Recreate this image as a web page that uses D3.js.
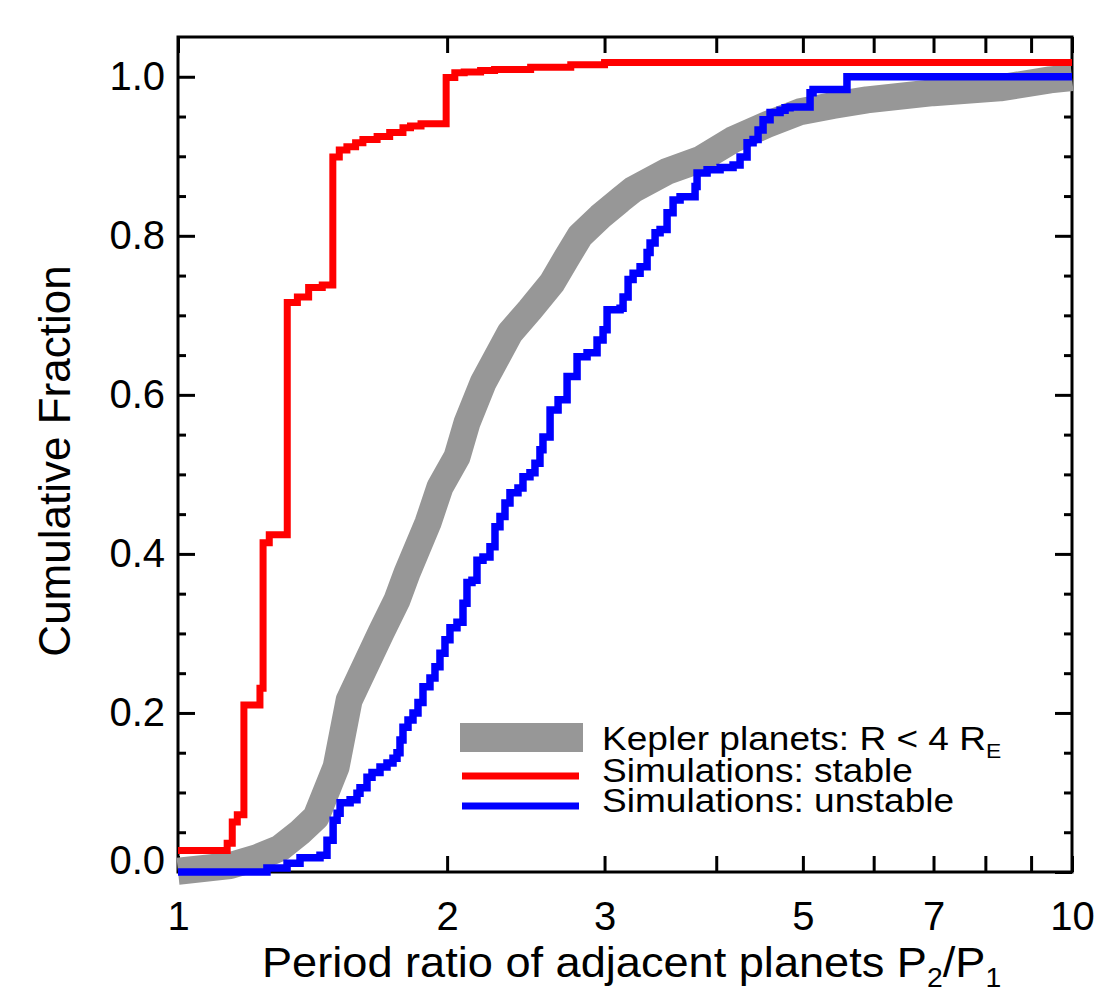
<!DOCTYPE html>
<html><head><meta charset="utf-8">
<script src="https://cdn.jsdelivr.net/npm/d3@7"></script>
<style>
html,body{margin:0;padding:0;background:#fff;}
text{font-family:"Liberation Sans",Arial,Helvetica,sans-serif;fill:#000;}
</style></head>
<body>
<svg id="chart" width="1108" height="1007"></svg>
<script>
// ---- data (period ratio, cumulative fraction) ----
const keplerRatio = [1.0,1.1433,1.2256,1.3007,1.3693,1.4268,1.5026,1.5538,1.6868,1.7578,1.8036,1.9037,1.9635,2.0514,2.105,2.1935,2.3515,2.476,2.6207,2.72,2.8166,2.9656,3.1224,3.2289,3.5242,3.8369,4.1771,4.5595,4.9638,5.403,5.8962,6.9937,8.3073,9.4497,10.0];
const keplerFrac  = [0.001,0.008,0.018,0.030,0.050,0.069,0.132,0.216,0.301,0.342,0.376,0.439,0.484,0.522,0.565,0.615,0.678,0.707,0.741,0.772,0.800,0.824,0.845,0.858,0.881,0.896,0.921,0.940,0.956,0.964,0.971,0.980,0.986,0.996,0.999];

const stableRatio = [1.0,1.135,1.150,1.165,1.185,1.235,1.245,1.265,1.325,1.36,1.40,1.45,1.49,1.515,1.545,1.58,1.61,1.67,1.725,1.785,1.82,1.87,1.995,2.04,2.09,2.18,2.26,2.48,2.75,3.0,10.0];
const stableFrac  = [0.027,0.036,0.063,0.072,0.210,0.231,0.414,0.424,0.716,0.723,0.735,0.738,0.899,0.908,0.912,0.917,0.921,0.925,0.930,0.936,0.938,0.941,0.999,1.005,1.006,1.008,1.009,1.012,1.015,1.018,1.018];

const unstableRatio = [1.0,1.2574,1.3243,1.3693,1.4416,1.4678,1.4911,1.5065,1.5182,1.5578,1.5857,1.598,1.6271,1.6482,1.6825,1.7131,1.7398,1.7578,1.7714,1.7851,1.8083,1.8317,1.8554,1.8794,1.9136,1.9384,1.9635,1.989,2.0147,2.0514,2.0834,2.105,2.1322,2.1599,2.1935,2.2334,2.2624,2.2917,2.3214,2.3515,2.4004,2.4315,2.4757,2.5078,2.5403,2.56,2.6073,2.6616,2.724,2.795,2.8679,2.9427,2.9886,3.0196,3.1224,3.1466,3.1876,3.2289,3.2876,3.3474,3.3733,3.417,3.4613,3.5242,3.5791,3.6442,3.7877,3.8073,3.9066,4.0396,4.1771,4.2531,4.3305,4.398,4.455,4.5127,4.5948,4.7146,4.7757,4.8378,5.0934,5.1328,5.6012,10.0];
const unstableFrac  = [0.0,0.005,0.011,0.018,0.021,0.040,0.065,0.074,0.087,0.091,0.099,0.106,0.119,0.125,0.132,0.137,0.143,0.150,0.166,0.182,0.191,0.200,0.213,0.233,0.244,0.258,0.275,0.292,0.307,0.314,0.338,0.364,0.367,0.392,0.396,0.409,0.434,0.447,0.464,0.477,0.483,0.497,0.502,0.514,0.531,0.547,0.581,0.594,0.623,0.648,0.653,0.669,0.682,0.707,0.709,0.723,0.745,0.753,0.761,0.779,0.791,0.804,0.808,0.829,0.845,0.849,0.862,0.879,0.883,0.886,0.889,0.899,0.917,0.921,0.933,0.946,0.955,0.958,0.961,0.962,0.980,0.984,1.000,1.000];

const xTickValues = [1,2,3,4,5,6,7,8,9,10];
const xTickLabels = ["1","2","3","","5","","7","","","10"];
const yMajorTicks = [0,0.2,0.4,0.6,0.8,1.0];
const yMinorTicks = [0.05,0.1,0.15,0.25,0.3,0.35,0.45,0.5,0.55,0.65,0.7,0.75,0.85,0.9,0.95];
const legendLabels = ["Kepler planets: R < 4 R", "Simulations: stable", "Simulations: unstable"];
const xTitle = "Period ratio of adjacent planets ";
const yTitle = "Cumulative Fraction";

// ---- layout ----
const L = 178, R = 1072, T = 37, B = 872;
const svg = d3.select("#chart");
const x = d3.scaleLog().domain([1,10]).range([L,R]);
const y = d3.scaleLinear().domain([0,1.05]).range([B,T]);

// frame
svg.append("rect").attr("x",L).attr("y",T).attr("width",R-L).attr("height",B-T)
  .attr("fill","none").attr("stroke","#000").attr("stroke-width",3);

function styleAxis(g){
  g.select(".domain").remove();
  g.selectAll(".tick line").attr("stroke","#000").attr("stroke-width",3);
  g.selectAll("text").style("font-size","40px").attr("fill","#000");
}
// bottom
const gb = svg.append("g").attr("transform",`translate(0,${B})`)
  .call(d3.axisBottom(x).tickValues(xTickValues).tickSize(-16).tickPadding(30)
    .tickFormat((d,i)=>xTickLabels[i]));
styleAxis(gb);
// top
const gt = svg.append("g").attr("transform",`translate(0,${T})`)
  .call(d3.axisTop(x).tickValues(xTickValues).tickSize(-16).tickFormat(""));
styleAxis(gt);
// left major
const gl = svg.append("g").attr("transform",`translate(${L},0)`)
  .call(d3.axisLeft(y).tickValues(yMajorTicks).tickSize(-17).tickPadding(13).tickFormat(d3.format(".1f")));
styleAxis(gl);
gl.selectAll(".tick text").filter(d=>d===0).attr("dy","0").attr("y",1);
gl.selectAll(".tick text").attr("x",-13);
const glm = svg.append("g").attr("transform",`translate(${L},0)`)
  .call(d3.axisLeft(y).tickValues(yMinorTicks).tickSize(-8).tickFormat(""));
styleAxis(glm);
// right
const gr = svg.append("g").attr("transform",`translate(${R},0)`)
  .call(d3.axisRight(y).tickValues(yMajorTicks).tickSize(-17).tickFormat(""));
styleAxis(gr);
const grm = svg.append("g").attr("transform",`translate(${R},0)`)
  .call(d3.axisRight(y).tickValues(yMinorTicks).tickSize(-8).tickFormat(""));
styleAxis(grm);

// ---- curves ----
const kepler = keplerRatio.map((r,i)=>[r,keplerFrac[i]]);
const stable = stableRatio.map((r,i)=>[r,stableFrac[i]]);
const unstable = unstableRatio.map((r,i)=>[r,unstableFrac[i]]);

const smooth = d3.line().x(d=>x(d[0])).y(d=>y(d[1])).curve(d3.curveLinear);
const step = d3.line().x(d=>x(d[0])).y(d=>y(d[1])).curve(d3.curveStepAfter);

svg.append("path").attr("d",smooth(kepler)).attr("fill","none")
  .attr("stroke","#979797").attr("stroke-width",27).attr("stroke-linejoin","round");
svg.append("path").attr("d",step(unstable)).attr("fill","none")
  .attr("stroke","#0000ff").attr("stroke-width",7.5).attr("stroke-linejoin","miter");
svg.append("path").attr("d",step(stable)).attr("fill","none")
  .attr("stroke","#ff0000").attr("stroke-width",7).attr("stroke-linejoin","miter");

// ---- legend ----
const leg = svg.append("g");
leg.append("line").attr("x1",460).attr("x2",583).attr("y1",737.5).attr("y2",737.5)
  .attr("stroke","#979797").attr("stroke-width",29);
leg.append("line").attr("x1",462).attr("x2",579).attr("y1",776).attr("y2",776)
  .attr("stroke","#ff0000").attr("stroke-width",7);
leg.append("line").attr("x1",462).attr("x2",579).attr("y1",806).attr("y2",806)
  .attr("stroke","#0000ff").attr("stroke-width",7);
const legY = [750,782,812];
legendLabels.forEach((s,i)=>{
  const t = leg.append("text").attr("transform",`translate(602,${legY[i]}) scale(1.09,1)`)
    .style("font-size","34px");
  t.append("tspan").text(s);
  if(i===0) t.append("tspan").attr("dy",8).style("font-size","21px").text("E");
});

// ---- titles ----
const xt = svg.append("text").attr("transform","translate(262,977) scale(1.05,1)").style("font-size","43px");
xt.append("tspan").text(xTitle + "P");
xt.append("tspan").attr("dy",10).style("font-size","27px").text("2");
xt.append("tspan").attr("dy",-10).text("/P");
xt.append("tspan").attr("dy",10).style("font-size","27px").text("1");

svg.append("text").attr("transform","translate(70,461) rotate(-90)")
  .attr("text-anchor","middle").style("font-size","44px").text(yTitle);
</script>
</body></html>
